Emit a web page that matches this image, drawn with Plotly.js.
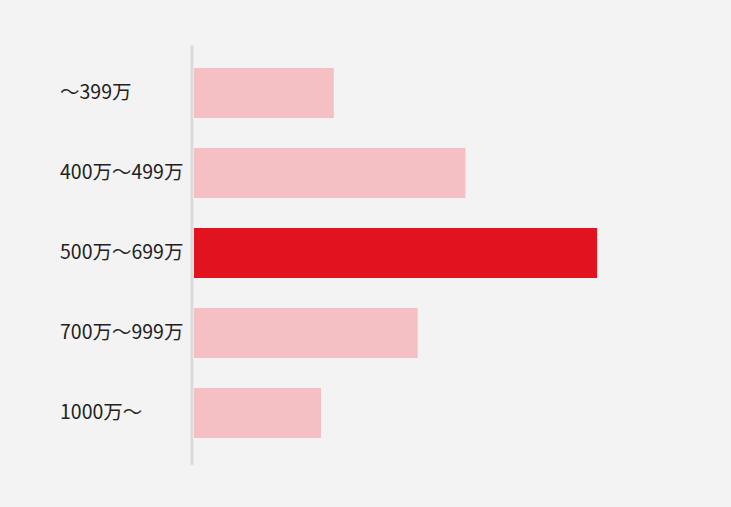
<!DOCTYPE html>
<html>
<head>
<meta charset="utf-8">
<script src="https://cdn.plot.ly/plotly-3.0.1.min.js"></script>
<style>
  html, body { margin: 0; padding: 0; background: #f3f3f3; }
  #chart { width: 731px; height: 507px; }
</style>
</head>
<body>
<div id="chart"></div>
<script>
// income brackets and share (%)
const categories = ['〜399万', '400万〜499万', '500万〜699万', '700万〜999万', '1000万〜'];
const shares = [12.0, 23.3, 34.6, 19.2, 10.9];
const highlight = '500万〜699万';

const barColors = categories.map(c => c === highlight ? '#e0131f' : '#f4c0c4');

const trace = {
    type: 'bar',
    orientation: 'h',
    y: categories,
    x: shares,
    marker: { color: barColors },
    width: 0.625,
    hoverinfo: 'skip'
};

// category labels, left aligned like the original
const labels = categories.map(c => ({
    text: c,
    xref: 'paper',
    yref: 'y',
    x: -136 / 466,
    y: c,
    yshift: 3,
    xanchor: 'left',
    yanchor: 'middle',
    showarrow: false,
    font: { family: 'Noto Sans CJK JP', size: 19.5, color: '#222222' }
}));

const layout = {
    width: 731,
    height: 507,
    paper_bgcolor: '#f3f3f3',
    plot_bgcolor: '#f3f3f3',
    margin: { l: 194, r: 71, t: 45, b: 42 },
    showlegend: false,
    xaxis: {
        range: [0, 40],
        visible: false,
        fixedrange: true
    },
    yaxis: {
        type: 'category',
        range: [4.65, -0.6],
        showticklabels: false,
        showgrid: false,
        zeroline: false,
        fixedrange: true
    },
    shapes: [{
        type: 'line',
        xref: 'paper',
        yref: 'paper',
        x0: -2 / 466, x1: -2 / 466,
        y0: 0, y1: 1,
        line: { color: '#dcdcdc', width: 3 }
    }],
    annotations: labels
};

Plotly.newPlot('chart', [trace], layout, { displayModeBar: false, staticPlot: true });
</script>
</body>
</html>
